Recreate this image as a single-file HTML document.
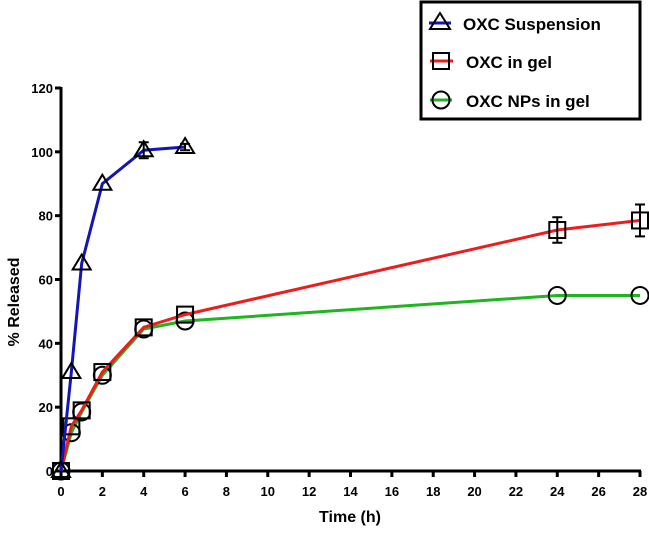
<!DOCTYPE html>
<html><head><meta charset="utf-8"><style>
body{margin:0;background:#fff;}
svg text{font-family:"Liberation Sans",Arial,sans-serif;font-weight:bold;}
</style></head><body>
<svg width="649" height="532" viewBox="0 0 649 532">
<g id="axes"></g><g id="series"></g>
<g>
<rect x="421" y="2" width="219" height="117" fill="#fff" stroke="#000" stroke-width="3"/>
<line x1="429" y1="23" x2="451" y2="23" stroke="#1515b5" stroke-width="3"/>
<polygon points="440,13 450,29 430,29" fill="none" stroke="#000" stroke-width="2"/>
<text x="463" y="30" font-size="17">OXC Suspension</text>
<line x1="430" y1="61" x2="453" y2="61" stroke="#ee1c1c" stroke-width="3"/>
<rect x="433" y="53" width="16" height="16" fill="none" stroke="#000" stroke-width="2"/>
<text x="466" y="68" font-size="17">OXC in gel</text>
<line x1="430" y1="100" x2="452" y2="100" stroke="#1fb51f" stroke-width="3"/>
<circle cx="441" cy="100" r="8.5" fill="none" stroke="#000" stroke-width="2"/>
<text x="466" y="107" font-size="17">OXC NPs in gel</text>
</g>
<text x="350" y="522" font-size="16" text-anchor="middle">Time (h)</text>
<text transform="translate(19,302) rotate(-90)" font-size="16" text-anchor="middle">% Released</text>
</svg>
<script>
const xTicks=[0,2,4,6,8,10,12,14,16,18,20,22,24,26,28];
const yTicks=[0,20,40,60,80,100,120];
const suspT=[0,0.5,1,2,4,6];
const suspV=[0,31,65,90,100.5,101.5];
const suspE=[0,0,0,0,2.5,1];
const gelT=[0,0.5,1,2,4,6,24,28];
const gelV=[0,14,19,31,45,49,75.5,78.5];
const gelE=[0,0,0,0,0,0,4,5];
const npT=[0,0.5,1,2,4,6,24,28];
const npV=[0,12,18.5,30,44.5,47,55,55];
const npE=[0,0,0,0,0,0,0,0];
const NS='http://www.w3.org/2000/svg';
const X=t=>61+t*(640-61)/28;
const Y=v=>471-v*(471-88)/120;
function mk(tag,attrs,parent){const e=document.createElementNS(NS,tag);for(const k in attrs)e.setAttribute(k,attrs[k]);parent.appendChild(e);return e;}
const ax=document.getElementById('axes');
let e=mk('line',{x1:61,y1:471,x2:641,y2:471,stroke:'#000','stroke-width':3},ax);


e=mk('line',{x1:61,y1:87,x2:61,y2:472,stroke:'#000','stroke-width':3},ax);


xTicks.forEach(t=>{mk('line',{x1:X(t),y1:471,x2:X(t),y2:477,stroke:'#000','stroke-width':3},ax);
const l=mk('text',{x:X(t),y:496,'font-size':13,'text-anchor':'middle'},ax);l.textContent=t;

});
yTicks.forEach(v=>{mk('line',{x1:55,y1:Y(v),x2:61,y2:Y(v),stroke:'#000','stroke-width':3},ax);
const l=mk('text',{x:53,y:Y(v)+5,'font-size':13,'text-anchor':'end'},ax);l.textContent=v;

});
const sg=document.getElementById('series');
function series(T,V,E,color,shape,name){
const g=mk('g',{},sg);


mk('polyline',{points:T.map((t,i)=>X(t)+','+Y(V[i])).join(' '),fill:'none',stroke:color,'stroke-width':3},g);
T.forEach((t,i)=>{const x=X(t),y=Y(V[i]);let m;
if(E[i]>0){mk('path',{d:`M${x},${Y(V[i]+E[i])}V${Y(V[i]-E[i])}M${x-5},${Y(V[i]+E[i])}H${x+5}M${x-5},${Y(V[i]-E[i])}H${x+5}`,stroke:'#000','stroke-width':2,fill:'none'},g);}
if(shape==='tri')m=mk('polygon',{points:`${x},${y-9} ${x+9},${y+6} ${x-9},${y+6}`,fill:'none',stroke:'#000','stroke-width':2},g);
else if(shape==='sq')m=mk('rect',{x:x-8,y:y-8,width:16,height:16,fill:'none',stroke:'#000','stroke-width':2},g);
else m=mk('circle',{cx:x,cy:y,r:8.5,fill:'none',stroke:'#000','stroke-width':2},g);

});
}
series(npT,npV,npE,'#1fb51f','circ','series-nps-in-gel');
series(gelT,gelV,gelE,'#ee1c1c','sq','series-gel');
series(suspT,suspV,suspE,'#1515b5','tri','series-suspension');
</script>
</body></html>
